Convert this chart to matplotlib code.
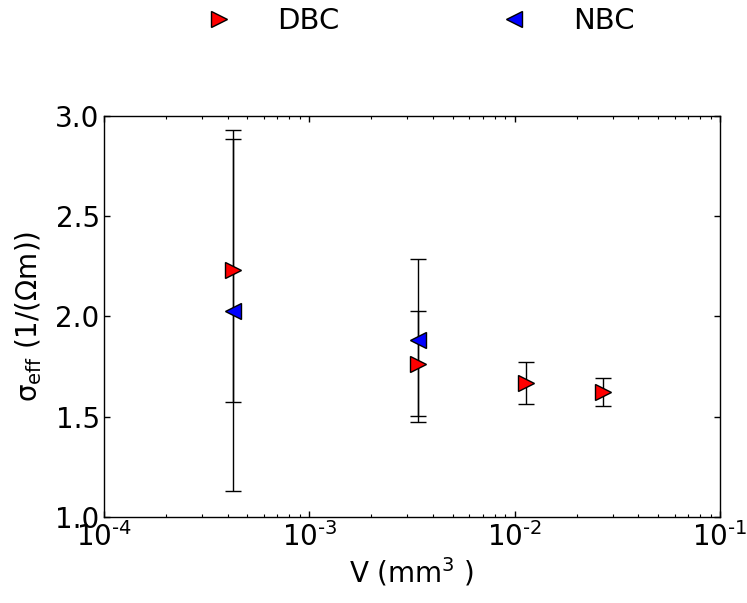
import matplotlib
matplotlib.use("Agg")
import matplotlib.pyplot as plt

# Data
v_dbc = [4.27e-4, 3.37e-3, 1.137e-2, 2.68e-2]
s_dbc = [2.23, 1.765, 1.667, 1.623]
err_dbc_lo = [0.655, 0.26, 0.105, 0.072]
err_dbc_hi = [0.697, 0.26, 0.105, 0.072]

v_nbc = [4.27e-4, 3.37e-3]
s_nbc = [2.027, 1.881]
err_nbc_lo = [0.897, 0.405]
err_nbc_hi = [0.855, 0.405]

xticks = [1e-4, 1e-3, 1e-2, 1e-1]
xticklabels = ['$10^{\u2010' + e + '}$' for e in ['4', '3', '2', '1']]
yticks = [1.0, 1.5, 2.0, 2.5, 3.0]
yticklabels = ['1.0', '1.5', '2.0', '2.5', '3.0']

plt.rcParams['font.family'] = ['DejaVu Sans']
plt.rcParams['mathtext.fontset'] = 'custom'
plt.rcParams['mathtext.rm'] = 'DejaVu Sans'
plt.rcParams['mathtext.it'] = 'DejaVu Sans'
plt.rcParams['mathtext.default'] = 'regular'

fig = plt.figure(figsize=(7.47, 6.03), dpi=100)
ax = fig.add_axes([0.139, 0.1426, 0.825, 0.6654])

ax.errorbar(v_dbc, s_dbc, yerr=[err_dbc_lo, err_dbc_hi], fmt='none',
            ecolor='black', elinewidth=1.0, capsize=6, capthick=1.0, zorder=2)
ax.errorbar(v_nbc, s_nbc, yerr=[err_nbc_lo, err_nbc_hi], fmt='none',
            ecolor='black', elinewidth=1.0, capsize=6, capthick=1.0, zorder=2)
ax.plot(v_dbc, s_dbc, linestyle='none', marker='>', markersize=11.5,
        markerfacecolor='red', markeredgecolor='black', markeredgewidth=1.0,
        label='DBC', zorder=3)
ax.plot(v_nbc, s_nbc, linestyle='none', marker='<', markersize=11.5,
        markerfacecolor='blue', markeredgecolor='black', markeredgewidth=1.0,
        label='NBC', zorder=3)

ax.set_xscale('log')
ax.set_xlim(1e-4, 1e-1)
ax.set_ylim(1.0, 3.0)
ax.set_yticks(yticks)
ax.set_yticklabels(yticklabels)
ax.set_xticks(xticks)
ax.set_xticklabels(xticklabels)

ax.tick_params(which='both', direction='in', top=True, right=True, labelsize=20)
ax.tick_params(axis='x', which='major', pad=4)
ax.tick_params(axis='y', which='major', pad=3)
ax.tick_params(which='major', length=4.5, width=1)
ax.tick_params(which='minor', length=2.5, width=0.8)
for s in ax.spines.values():
    s.set_linewidth(1.0)

ax.set_xlabel('V (mm$^3$ )', fontsize=20, labelpad=2)
ax.set_ylabel('σ$_{eff}$ (1/(Ωm))', fontsize=20, labelpad=8)

ax.legend(loc='center', bbox_to_anchor=(0.5, 1.235), ncol=2, frameon=False,
          fontsize=21, handletextpad=1.0, columnspacing=5.0, numpoints=1)

fig.savefig('out.png', dpi=100)
